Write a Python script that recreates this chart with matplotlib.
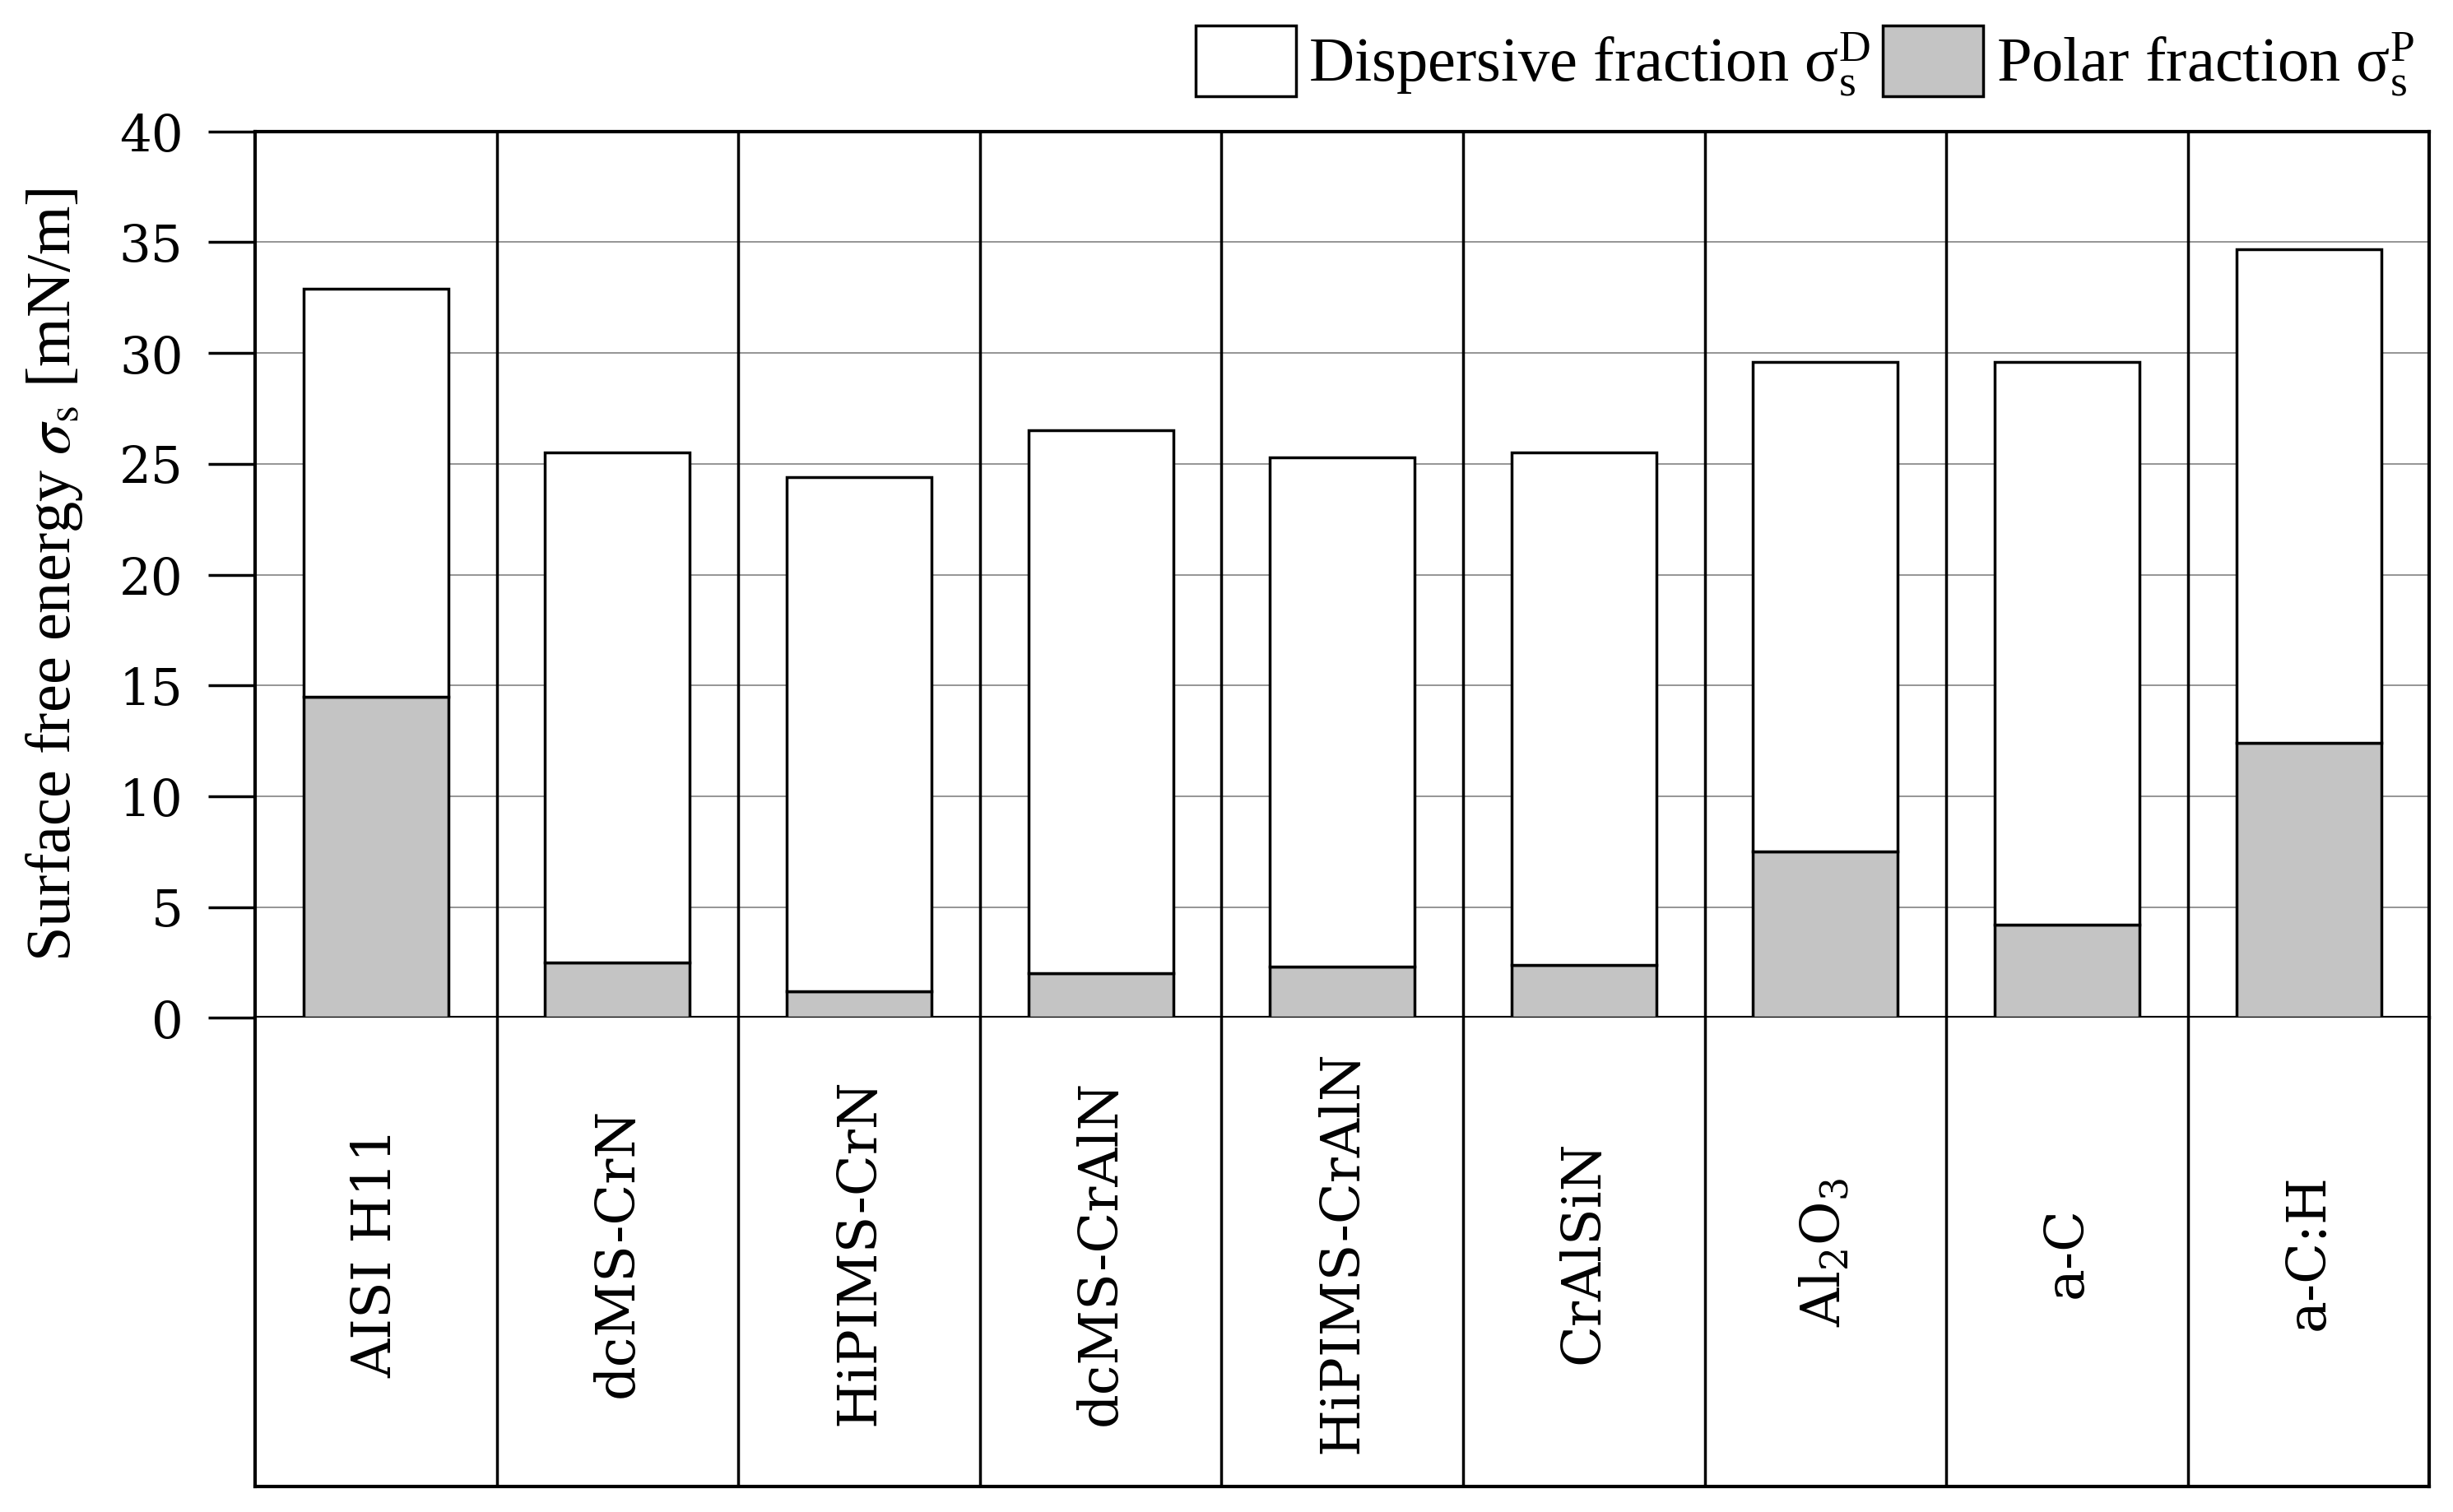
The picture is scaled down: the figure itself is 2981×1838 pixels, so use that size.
import matplotlib
matplotlib.use("Agg")
import matplotlib.pyplot as plt
from matplotlib.patches import Patch

# Oberflächenenergie, Werte
materials = ["AISI H11", "dcMS-CrN", "HiPIMS-CrN", "dcMS-CrAlN", "HiPIMS-CrAlN",
             "CrAlSiN", r"Al$\mathregular{_2}$O$\mathregular{_3}$", "a-C", "a-C:H"]
total = [32.9, 25.5, 24.4, 26.5, 25.3, 25.5, 29.6, 29.6, 34.7]
polar = [14.5, 2.5, 1.2, 2.0, 2.3, 2.4, 7.5, 4.2, 12.4]
dispersive = [t - p for t, p in zip(total, polar)]
yticks = [0, 5, 10, 15, 20, 25, 30, 35, 40]

plt.rcParams["font.family"] = "Liberation Serif"
plt.rcParams["mathtext.fontset"] = "stix"

fig = plt.figure(figsize=(29.81, 18.38), dpi=100)
ax = fig.add_axes([0.104, 0.3268, 0.8864, 0.5863])
ax_lab = fig.add_axes([0.104, 0.0166, 0.8864, 0.3102])

x = list(range(len(materials)))
lw = 2.5
ax.bar(x, polar, width=0.6, color="#c4c4c4", edgecolor="black", linewidth=lw, zorder=3)
ax.bar(x, dispersive, bottom=polar, width=0.6, color="white", edgecolor="black",
       linewidth=lw, zorder=3)

ax.set_xlim(-0.5, len(materials) - 0.5)
ax.set_ylim(0, 40)
ax.set_yticks(yticks)
ax.set_xticks([])
ax.yaxis.grid(True, color="#8c8c8c", linewidth=1.3)
ax.set_axisbelow(True)
for b in range(1, len(materials)):
    ax.axvline(b - 0.5, color="black", linewidth=lw, zorder=4)
for s in ax.spines.values():
    s.set_linewidth(3)
ax.tick_params(axis="y", direction="out", length=41, width=2.5, pad=22, labelsize=44)
for t in ax.get_yticklabels():
    t.set_fontfamily("DejaVu Serif")
ax.set_ylabel(r"Surface free energy $\sigma_\mathrm{s}$ [mN/m]", fontsize=55, labelpad=30)

# Beschriftungsfelder unterhalb der Achse
ax_lab.set_xlim(-0.5, len(materials) - 0.5)
ax_lab.set_ylim(0, 1)
ax_lab.set_xticks([])
ax_lab.set_yticks([])
ax_lab.spines["top"].set_visible(False)
for s in ["left", "right", "bottom"]:
    ax_lab.spines[s].set_linewidth(3)
for b in range(1, len(materials)):
    ax_lab.axvline(b - 0.5, color="black", linewidth=lw)
for i, name in enumerate(materials):
    ax_lab.text(i, 0.5, name, rotation=90, ha="center", va="center",
                fontsize=47, family="DejaVu Serif")

handles = [Patch(facecolor="white", edgecolor="black", linewidth=lw),
           Patch(facecolor="#c4c4c4", edgecolor="black", linewidth=lw)]
labels = [r"Dispersive fraction $\mathregular{\sigma_s^D}$",
          r"Polar fraction $\mathregular{\sigma_s^P}$"]
fig.legend(handles, labels, loc="upper right", bbox_to_anchor=(0.997, 1.004),
           ncol=2, frameon=False, fontsize=55, handlelength=1.6, handleheight=1.35,
           handletextpad=0.2, columnspacing=0.2, borderaxespad=0.1)

fig.savefig("out.png", dpi=100)
